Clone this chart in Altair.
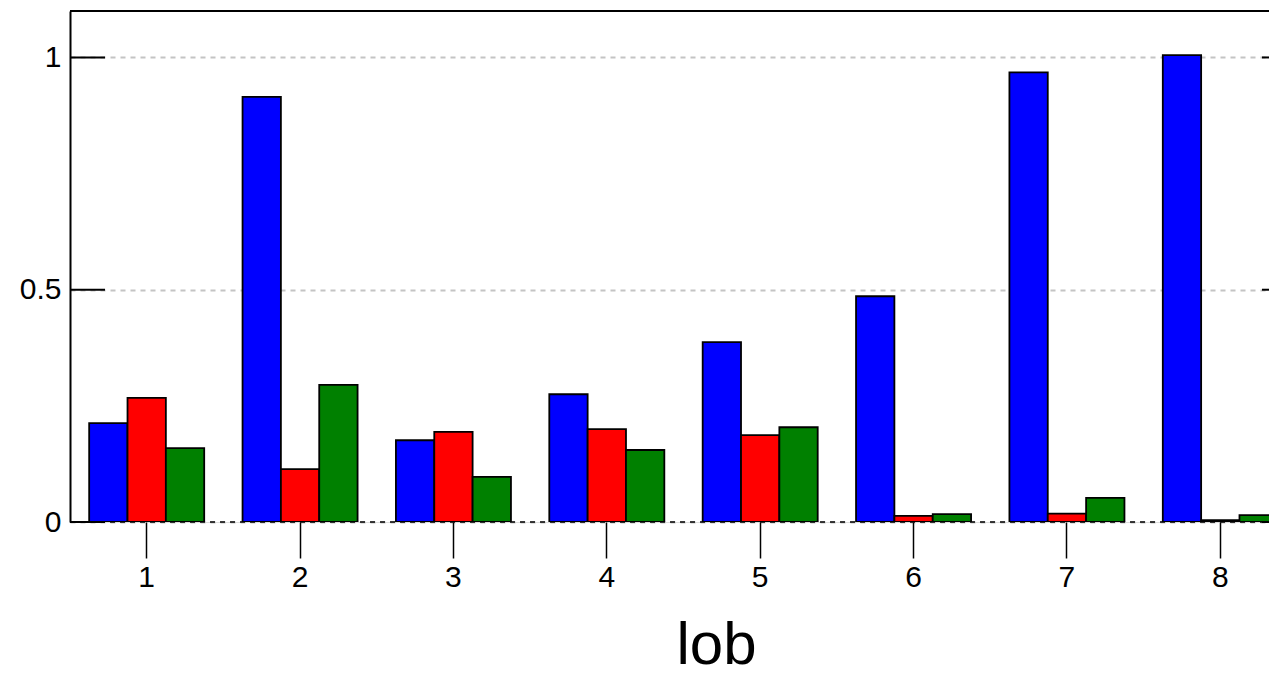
import altair as alt
import pandas as pd

lobs = ["1", "2", "3", "4", "5", "6", "7", "8"]
series = ["s1", "s2", "s3"]
blue = [0.213, 0.915, 0.176, 0.275, 0.387, 0.486, 0.968, 1.005]
red = [0.267, 0.114, 0.194, 0.200, 0.187, 0.013, 0.018, 0.004]
green = [0.159, 0.295, 0.097, 0.155, 0.204, 0.017, 0.052, 0.015]
y_ticks = [0, 0.5, 1]
colors = ["#0000ff", "#ff0000", "#008000"]

rows = []
for s, vals in zip(series, [blue, red, green]):
    for l, v in zip(lobs, vals):
        rows.append({"lob": l, "series": s, "value": v})
df = pd.DataFrame(rows)
ticks_df = pd.DataFrame({"y": y_ticks})
zero_df = pd.DataFrame({"y": [0]})

W = 1199      # visible plot width (page is 1277 wide)
RANGE = 1227  # full band range; the last group runs past the window edge
H = 511
FONT = "Liberation Sans"

yscale = alt.Scale(domain=[0, 1.1], nice=False)

bars = alt.Chart(df).mark_bar(stroke="black", strokeWidth=1.8, clip=True).encode(
    x=alt.X("lob:N", sort=lobs,
            scale=alt.Scale(paddingInner=0.25, paddingOuter=0.125, range=[0, RANGE]),
            axis=alt.Axis(labelAngle=0, tickSize=36, tickColor="black", tickWidth=1.5,
                          domain=False, grid=False, labelFontSize=30, labelPadding=4,
                          labelFont=FONT, labelColor="black",
                          title="lob", titleFontSize=60, titleFontWeight="normal",
                          titleFont=FONT, titleColor="black",
                          titleX=646, titleY=141, titleBaseline="alphabetic")),
    xOffset=alt.XOffset("series:N", sort=series,
                        scale=alt.Scale(paddingInner=0, paddingOuter=0)),
    y=alt.Y("value:Q", scale=yscale,
            axis=alt.Axis(values=y_ticks, format="~g", ticks=False, domain=True,
                          domainColor="black", domainWidth=2, grid=True,
                          gridColor="#c4c4c4", gridDash=[5, 5], gridWidth=2,
                          labelFontSize=30, labelPadding=9, labelFont=FONT,
                          labelColor="black", title=None)),
    color=alt.Color("series:N", scale=alt.Scale(domain=series, range=colors), legend=None),
)

zero_rule = alt.Chart(zero_df).mark_rule(color="black", strokeWidth=1.5, strokeDash=[5, 5]).encode(
    y=alt.Y("y:Q", scale=yscale), x=alt.value(0), x2=alt.value(W)
)

left_ticks = alt.Chart(ticks_df).mark_rule(color="black", strokeWidth=2).encode(
    y=alt.Y("y:Q", scale=yscale), x=alt.value(0), x2=alt.value(35)
)
right_ticks = alt.Chart(ticks_df).mark_rule(color="black", strokeWidth=2).encode(
    y=alt.Y("y:Q", scale=yscale), x=alt.value(RANGE - 35), x2=alt.value(W)
)
top_border = alt.Chart(zero_df).mark_rule(color="black", strokeWidth=2).encode(
    y=alt.value(0), x=alt.value(0), x2=alt.value(W)
)

chart = alt.layer(bars, zero_rule, left_ticks, right_ticks, top_border).properties(
    width=W, height=H,
    autosize=alt.AutoSizeParams(type="none"),
    padding={"left": 62, "top": 3, "right": 0, "bottom": 154},
).configure_view(stroke=None).configure(background="white")

chart.save("out.html", embed_options={"renderer": "svg", "actions": False})
